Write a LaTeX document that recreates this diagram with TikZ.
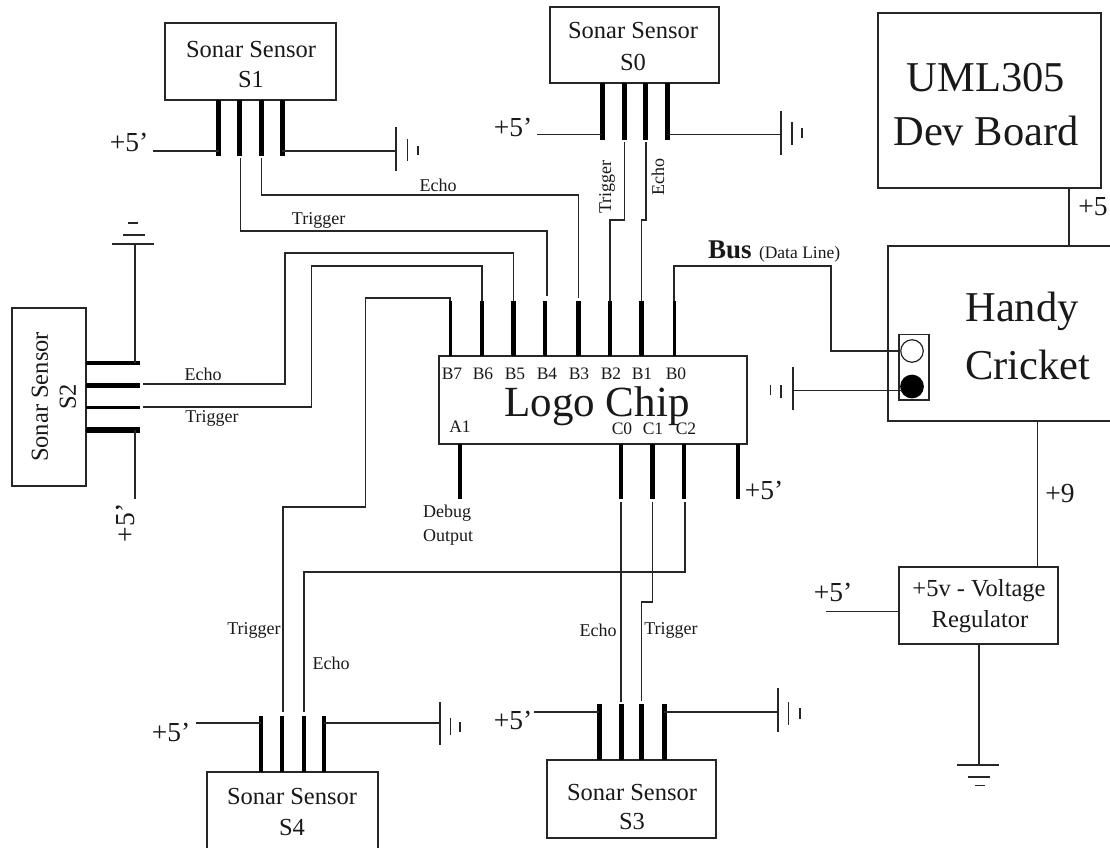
\documentclass[tikz,border=0pt]{standalone}
\usepackage{fontspec}
\setmainfont{Liberation Serif}
\newcommand{\fsz}[1]{\fontsize{#1}{#1}\selectfont}
\tikzset{
  boxnode/.style={draw=black!85,line width=1.4pt,inner sep=0pt,outer sep=0pt,fill=white,anchor=north west},
  pinline/.style={line width=5pt,black},
  thinpin/.style={line width=3.4pt,black},
  wire/.style={line width=1.5pt,black!85,line join=miter},
  gnd/.style={line width=1.3pt,black!85},
  txt/.style={inner sep=0pt,outer sep=0pt,text=black!90},
  sm/.style={txt,font=\fsz{18}},
  pinlab/.style={txt,font=\fsz{17.5}},
  mid/.style={txt,font=\fsz{24.5}},
  pw/.style={txt,font=\fsz{27.5}},
  big/.style={txt,font=\fsz{42.5}}
}
\begin{document}
\begin{tikzpicture}[x=1pt,y=-1pt]
\useasboundingbox (0,0) rectangle (1110,847);
\fill[white] (0,0) rectangle (1110,847);

% ---- boxes ----
\node[boxnode,minimum width=171pt,minimum height=77pt] (s1) at (165,23) {};
\node[boxnode,minimum width=169pt,minimum height=76pt] (s0) at (550,7) {};
\node[boxnode,minimum width=74pt,minimum height=178pt] (s2) at (12,308) {};
\node[boxnode,minimum width=171pt,minimum height=90pt] (s4) at (207,772) {};
\node[boxnode,minimum width=169pt,minimum height=78pt] (s3) at (547,760) {};
\node[boxnode,minimum width=308pt,minimum height=88pt] (chip) at (439,356) {};
\node[boxnode,minimum width=223pt,minimum height=175pt] (uml) at (878,13) {};
\node[boxnode,minimum width=240pt,minimum height=175pt] (cricket) at (888,246) {};
\node[boxnode,minimum width=30pt,minimum height=65.5pt] (jack) at (899,334.5) {};
\node[boxnode,minimum width=159pt,minimum height=77pt] (reg) at (899,567) {};
\node[draw=black!85,line width=1.2pt,circle,minimum size=22.5pt,inner sep=0pt,fill=white] (hole) at (912,351) {};
\node[draw=black,line width=1.2pt,circle,minimum size=22.5pt,inner sep=0pt,fill=black] (holeb) at (912,386.5) {};

% ---- pin ends ----
\foreach \n/\x in {a/218.6,b/239,c/261,d/282}{
  \coordinate (s1\n t) at (\x,100); \coordinate (s1\n) at (\x,156);}
\foreach \n/\x in {a/602,b/624,c/645,d/667}{
  \coordinate (s0\n t) at (\x,83); \coordinate (s0\n) at (\x,140);}
\foreach \n/\y in {a/363,b/385.5,c/407.5,d/430}{
  \coordinate (s2\n t) at (86,\y); \coordinate (s2\n) at (140,\y);}
\foreach \n/\x in {a/261,b/282,c/304,d/324}{
  \coordinate (s4\n t) at (\x,772); \coordinate (s4\n) at (\x,716);}
\foreach \n/\x in {a/599,b/621,c/641.6,d/664}{
  \coordinate (s3\n t) at (\x,760); \coordinate (s3\n) at (\x,704);}
\foreach \n/\x in {7/450,6/482,5/513.5,4/545,3/578.5,2/610,1/641.5,0/674}{
  \coordinate (b\n t) at (\x,356); \coordinate (b\n) at (\x,301);}
\foreach \n/\x in {a1/460,c0/621,c1/652.5,c2/684,vcc/738}{
  \coordinate (\n t) at (\x,444); \coordinate (\n) at (\x,499);}

% ---- thick pins ----
\foreach \n in {a,b,c,d}{
  \draw[pinline] (s1\n t) -- (s1\n);
  \draw[pinline] (s0\n t) -- (s0\n);
  \draw[pinline] (s3\n t) -- (s3\n);
  \draw[thinpin,line width=4.2pt] (s4\n t) -- (s4\n);
}
\draw[thinpin] (s2at) -- (s2a);
\draw[pinline,line width=5.5pt] (s2bt) -- (s2b);
\draw[thinpin] (s2ct) -- (s2c);
\draw[pinline,line width=5.5pt] (s2dt) -- (s2d);
\foreach \n in {6,5,4,3,2,1}{\draw[pinline,line width=4.6pt] (b\n t) -- (b\n);}
\draw[thinpin,line width=3pt] (b7t) -- (b7);
\draw[thinpin,line width=3pt] (b0t) -- (b0);
\foreach \n in {a1,c0,c1,c2,vcc}{\draw[pinline,line width=4.8pt] (\n t) -- (\n);}

% ---- signal wires ----
\draw[wire] (261.5,158) -- (261.5,195) -- (578.5,195) -- (578.5,298);
\draw[wire] (240.5,158) -- (240.5,231) -- (547,231) -- (547,296);
\draw[wire] (624.5,142) -- (624.5,220) -- (610,220) -- (b2);
\draw[wire] (646,142) -- (646,220) -- (641.5,220) -- (b1);
\draw[wire] (143,384) -- (285,384) -- (285,253) -- (513.5,253) -- (b5);
\draw[wire] (143,407) -- (311.5,407) -- (311.5,266) -- (482,266) -- (b6);
\draw[wire] (b7) -- (450,298) -- (365.7,298) -- (365.7,507) -- (283,507) -- (283,712);
\draw[wire] (621,502) -- (621,702);
\draw[wire] (652.5,502) -- (652.5,602) -- (641.6,602) -- (641.6,701);
\draw[wire] (685,502) -- (685,572) -- (304,572) -- (304,712);
\draw[wire] (b0) -- (674,266) -- (831,266) -- (831,351) -- (hole.west);
\coordinate (gj) at (901.5,390.5);
\draw[wire] (gj) -- (793,390.5);

% ---- power wires ----
\coordinate (p1) at (153,151);   \draw[wire] (p1) -- (218.6,151);
\draw[wire] (282,151) -- (396,151);
\coordinate (p0) at (537,134.5); \draw[wire] (p0) -- (602,134.5);
\draw[wire] (667,134.5) -- (781,134.5);
\coordinate (p4) at (196,723);   \draw[wire] (p4) -- (261,723);
\draw[wire] (324,723) -- (440,723);
\coordinate (p3) at (534,712);   \draw[wire] (p3) -- (599,712);
\draw[wire] (664,712) -- (778,712);
\draw[wire] (135,244) -- (135,363);
\coordinate (p2) at (135,499);   \draw[wire] (135,430) -- (p2);
\draw[wire] (1069,188) -- (1069,246);
\draw[wire] (1037.7,421) -- (1037.7,567);
\coordinate (pr) at (826,611.6); \draw[wire] (pr) -- (899,611.6);
\draw[wire] (979,644) -- (979,765);

% ---- ground symbols ----
\draw[gnd] (396,127) -- (396,171) (407.5,139) -- (407.5,161) (418,146) -- (418,155);
\draw[gnd] (781,111) -- (781,155) (792,122) -- (792,145) (802,128) -- (802,138);
\draw[gnd] (440,702) -- (440,745) (450.5,718) -- (450.5,735) (460,722) -- (460,732);
\draw[gnd] (778,688) -- (778,732) (788.5,702) -- (788.5,725) (800,708) -- (800,719);
\draw[gnd] (793,367) -- (793,410) (781,385) -- (781,398) (770.7,385) -- (770.7,395);
\draw[gnd] (112,244) -- (154,244) (123,235) -- (145,235) (128,223) -- (138,223);
\draw[gnd] (957,765) -- (999,765) (968,777) -- (990,777) (975,785.5) -- (985,785.5);

% ---- sensor labels ----
\node[mid] (t1a) at (251,50) {Sonar Sensor};
\node[mid] (t1b) at (251,80) {S1};
\node[mid] (t0a) at (633,31) {Sonar Sensor};
\node[mid] (t0b) at (633,62) {S0};
\node[mid] (t4a) at (292,796) {Sonar Sensor};
\node[mid] (t4b) at (292,827) {S4};
\node[mid] (t3a) at (632,792) {Sonar Sensor};
\node[mid] (t3b) at (632,821) {S3};
\node[mid,rotate=90] (t2a) at (40,397) {Sonar Sensor};
\node[mid,rotate=90] (t2b) at (68,397) {S2};

% ---- big labels ----
\node[big] (tu) at (986,78) {UML305};
\node[big] (td) at (986,131) {Dev Board};
\node[big] (th) at (1022,311) {Handy};
\node[big] (tc) at (1028,365) {Cricket};
\node[big,font=\fsz{43},anchor=base] (tl) at (597,416) {Logo Chip};
\node[mid] (tr1) at (979,591) {+5v - Voltage};
\node[mid] (tr2) at (980,622) {Regulator};

% ---- pin labels ----
\foreach \t/\x in {B7/452,B6/483,B5/515,B4/547,B3/579,B2/611,B1/642,B0/676}{
  \node[pinlab] (l\t) at (\x,373.5) {\t};}
\node[pinlab] (lA1) at (460,427) {A1};
\node[pinlab] (lC0) at (622,429) {C0};
\node[pinlab] (lC1) at (653,429) {C1};
\node[pinlab] (lC2) at (686,429) {C2};

% ---- signal labels ----
\node[sm] (e1) at (438,185) {Echo};
\node[sm] (g1) at (318.6,220) {Trigger};
\node[sm,rotate=90] (g0) at (607,187) {Trigger};
\node[sm,rotate=90] (e0) at (658,177) {Echo};
\node[sm] (e2) at (203,374) {Echo};
\node[sm] (g2) at (212,418) {Trigger};
\node[sm] (g4) at (254,630) {Trigger};
\node[sm] (e4) at (331,663) {Echo};
\node[sm] (e3) at (598,630) {Echo};
\node[sm] (g3) at (671,630) {Trigger};
\node[sm] (dbg1) at (447,513) {Debug};
\node[sm] (dbg2) at (448,537) {Output};
\node[txt,font=\fsz{27}\bfseries,anchor=base west] (bus) at (708,258) {Bus};
\node[txt,font=\fsz{17.5},anchor=base west] (dl) at (759,258) {(Data Line)};

% ---- power labels ----
\node[pw] (v1) at (129,142) {+5’};
\node[pw] (v0) at (513,127) {+5’};
\node[pw] (v4) at (171,732) {+5’};
\node[pw] (v3) at (513,720) {+5’};
\node[pw,rotate=90] (v2) at (125,523) {+5’};
\node[pw] (vc) at (764,490) {+5’};
\node[pw] (vr) at (833,592) {+5’};
\node[pw] (v5) at (1093,207) {+5};
\node[pw] (v9) at (1060,493.5) {+9};
\end{tikzpicture}
\end{document}
